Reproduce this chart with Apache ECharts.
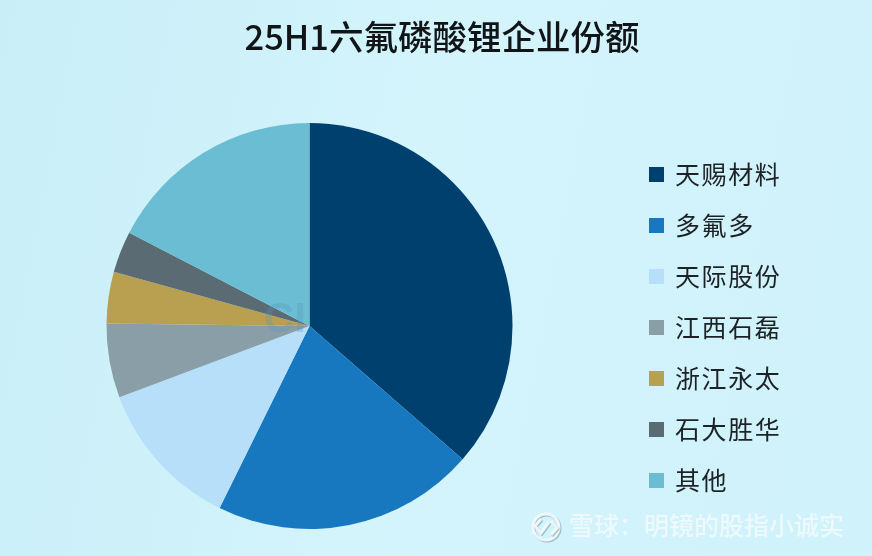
<!DOCTYPE html>
<html>
<head>
<meta charset="utf-8">
<title>25H1六氟磷酸锂企业份额</title>
<style>
html, body { margin: 0; padding: 0; }
#container { width: 872px; height: 556px; }
</style>
<script src="https://cdn.jsdelivr.net/npm/echarts@6/dist/echarts.min.js"></script>
</head>
<body>
<div id="container"></div>
<script>
var titleText = '25H1六氟磷酸锂企业份额';
var watermarkText = '雪球\uff1a明镜的股指小诚实';
var companies = ['天赐材料', '多氟多', '天际股份', '江西石磊', '浙江永太', '石大胜华', '其他'];
var shares = [36.4, 20.9, 12.0, 5.9, 4.1, 3.3, 17.4];
var colors = ['#00406f', '#1878bf', '#b8dffa', '#8a9ea8', '#b8a050', '#5a6b73', '#6bbdd3'];

var myChart = echarts.init(document.getElementById('container'));
var cjk = '"Noto Sans CJK SC", sans-serif';

var pieData = [];
for (var i = 0; i < companies.length; i++) {
    pieData.push({ name: companies[i], value: shares[i] });
}

var logoStyle = {
    fill: 'none',
    stroke: 'rgba(245,252,254,0.9)',
    lineWidth: 3,
    shadowColor: 'rgba(90,120,130,0.5)',
    shadowOffsetX: 1,
    shadowOffsetY: 1
};

var option = {
    animation: false,
    color: colors,
    backgroundColor: new echarts.graphic.LinearGradient(0, 0, 1, 0.3, [
        { offset: 0, color: '#c9eef8' },
        { offset: 0.5, color: '#d3f4fb' },
        { offset: 1, color: '#d0f2fb' }
    ]),
    title: {
        text: titleText,
        left: 437,
        top: 15,
        textAlign: 'center',
        textStyle: {
            fontFamily: cjk,
            fontSize: 34.5,
            fontWeight: 500,
            color: '#111518'
        }
    },
    legend: {
        orient: 'vertical',
        left: 644,
        top: 157,
        itemWidth: 15,
        itemHeight: 15,
        itemGap: 26,
        icon: 'rect',
        selectedMode: false,
        data: companies,
        formatter: function(name) {
            return '{a|' + name.split('').join('\u200a') + '}';
        },
        textStyle: {
            rich: {
                a: {
                    fontFamily: cjk,
                    fontSize: 25,
                    lineHeight: 30,
                    color: '#1c2226',
                    padding: [0, 0, 0, 6]
                }
            }
        }
    },
    series: [{
        type: 'pie',
        center: [309.5, 326],
        radius: 203,
        startAngle: 90,
        silent: true,
        label: { show: false },
        labelLine: { show: false },
        data: pieData
    }],
    graphic: [
        {
            type: 'text',
            left: 264,
            top: 299,
            z: 10,
            style: {
                text: 'CI',
                font: 'bold 42px "Liberation Sans", sans-serif',
                fill: 'rgba(90,150,190,0.3)'
            }
        },
        { type: 'circle', shape: { cx: 546, cy: 527, r: 13 }, style: logoStyle },
        { type: 'polyline', shape: { points: [[541, 519], [535, 526], [541, 533], [549, 522]] }, style: logoStyle },
        { type: 'polyline', shape: { points: [[551, 521], [557, 528], [551, 535]] }, style: logoStyle },
        {
            type: 'text',
            left: 569,
            top: 513,
            style: {
                text: watermarkText,
                font: '500 25px ' + cjk,
                fill: 'rgba(240,250,252,0.9)',
                shadowColor: 'rgba(90,120,130,0.55)',
                shadowOffsetX: 1,
                shadowOffsetY: 1,
                shadowBlur: 1
            }
        }
    ]
};

myChart.setOption(option, true);
</script>
</body>
</html>
